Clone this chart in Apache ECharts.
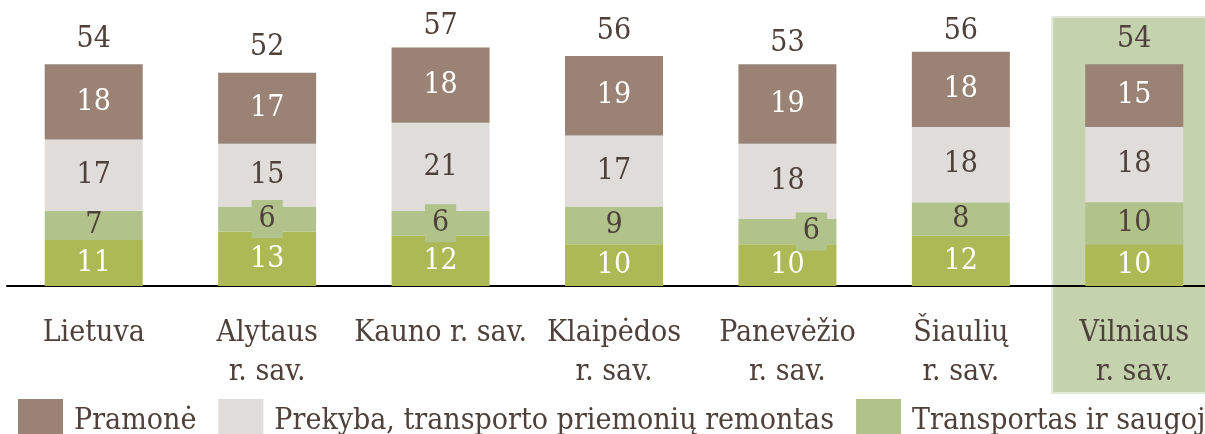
<!DOCTYPE html>
<html>
<head>
<meta charset="utf-8">
<script src="https://cdn.jsdelivr.net/npm/echarts@6/dist/echarts.min.js"></script>
<style>
  html, body { margin: 0; padding: 0; background: #fff; }
  #chart { width: 1205px; height: 434px; }
</style>
</head>
<body>
<div id="chart"></div>
<script>
// savivaldybės
const categories = ['Lietuva', 'Alytaus\nr. sav.', 'Kauno r. sav.', 'Klaipėdos\nr. sav.', 'Panevėžio\nr. sav.', 'Šiaulių\nr. sav.', 'Vilniaus\nr. sav.']
const pramone = [18, 17, 18, 19, 19, 18, 15]
const prekyba = [17, 15, 21, 17, 18, 18, 18]
const transportas = [7, 6, 6, 9, 6, 8, 10]
const statyba = [11, 13, 12, 10, 10, 12, 10]
const totals = [54, 52, 57, 56, 53, 56, 54]

const FONT = 'DejaVu Serif Condensed, DejaVu Serif, serif'
const TEXT = '#4e403a'
const FS = 30
const highlightIdx = 6

const chart = echarts.init(document.getElementById('chart'))

function segment(name, values, color, labelColor) {
  return {
    name: name,
    type: 'bar',
    stack: 'viso',
    barWidth: 98,
    itemStyle: { color: color },
    label: {
      show: true,
      position: 'inside',
      color: labelColor,
      fontFamily: FONT,
      fontSize: FS
    },
    data: values.map((v, i) => {
      const item = { value: v }
      // mazas segmentas - etiketė su fonu
      if (name === 'Transportas ir saugojimas' && v < 7) {
        item.label = {
          backgroundColor: color,
          padding: [5, 7, 3, 7],
          offset: i === 4 ? [24, 0] : [0, 0]
        }
      }
      return item
    })
  }
}

const option = {
  animation: false,
  backgroundColor: '#fff',
  grid: { left: 7, top: 35, width: 1214, height: 251, outerBoundsMode: 'none', containLabel: false },
  xAxis: {
    type: 'category',
    data: categories,
    axisTick: { show: false },
    axisLine: { lineStyle: { color: '#000', width: 2 } },
    axisLabel: {
      interval: 0,
      margin: 28,
      color: TEXT,
      fontFamily: FONT,
      fontSize: FS,
      lineHeight: 39
    }
  },
  yAxis: {
    type: 'value',
    min: 0,
    max: 60,
    show: false,
    splitLine: { show: false }
  },
  legend: {
    left: 18,
    top: 399,
    width: 3000,
    padding: 0,
    itemWidth: 45,
    itemHeight: 45,
    itemGap: 22,
    icon: 'rect',
    data: ['Pramonė', 'Prekyba, transporto priemonių remontas', 'Transportas ir saugojimas', 'Statyba'],
    textStyle: {
      color: TEXT,
      fontFamily: FONT,
      fontSize: FS,
      padding: [0, 0, 0, 6]
    }
  },
  series: [
    segment('Statyba', statyba, '#acb955', '#fff'),
    segment('Transportas ir saugojimas', transportas, '#b1c38b', TEXT),
    segment('Prekyba, transporto priemonių remontas', prekyba, '#e0dcd9', TEXT),
    segment('Pramonė', pramone, '#9a8374', '#fff'),
    {
      name: 'Iš viso',
      type: 'bar',
      barWidth: 98,
      barGap: '-100%',
      silent: true,
      z: 1,
      itemStyle: { color: 'rgba(0,0,0,0)' },
      label: {
        show: true,
        position: 'top',
        distance: 6,
        color: TEXT,
        fontFamily: FONT,
        fontSize: FS
      },
      data: totals
    }
  ]
}

chart.setOption(option)

// Vilniaus r. sav. paryškinimas
const cx = chart.convertToPixel({ xAxisIndex: 0 }, categories[highlightIdx])
chart.setOption({
  graphic: [
    {
      type: 'rect',
      z: -1,
      shape: { x: cx - 82, y: 17, width: 165, height: 376 },
      style: { fill: '#c5d2ae', stroke: '#e2e8d8', lineWidth: 2 }
    }
  ]
})
</script>
</body>
</html>
